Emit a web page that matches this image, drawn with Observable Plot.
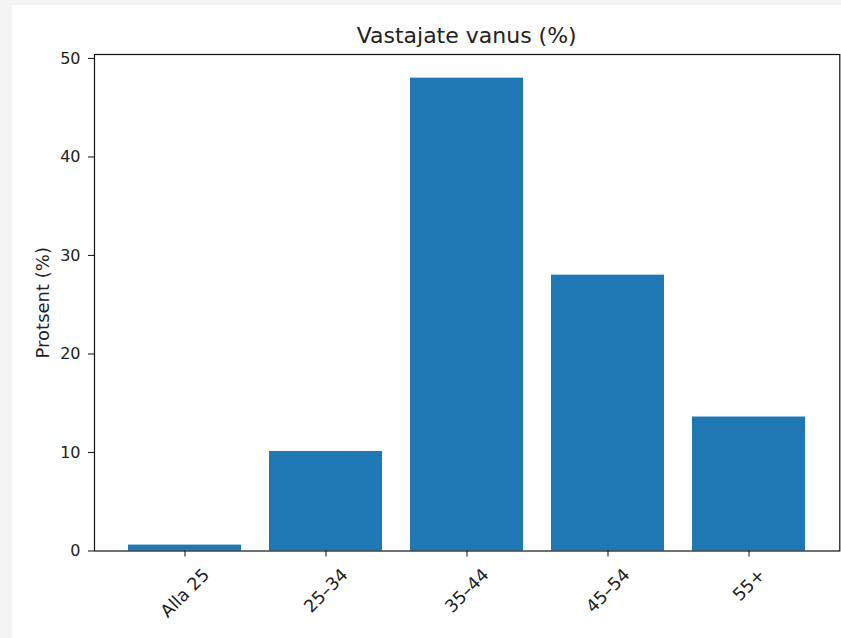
<!DOCTYPE html>
<html>
<head>
<meta charset="utf-8">
<script src="https://cdn.jsdelivr.net/npm/d3@7"></script>
<script src="https://cdn.jsdelivr.net/npm/@observablehq/plot@0.6"></script>
<style>
  html, body { margin: 0; padding: 0; background: #f4f4f4; }
  #wrap { position: absolute; left: 12px; top: 5px; width: 829px; height: 633px; background: #ffffff; overflow: hidden; }
  #title { box-sizing: border-box; height: 44px; padding: 19.7px 1.7px 0 82px; text-align: center;
           font-family: "DejaVu Sans", sans-serif; font-size: 22px; line-height: 22px; color: #222; white-space: nowrap; }
  #chart svg { display: block; }
</style>
</head>
<body>
<div id="wrap">
  <div id="title">Vastajate vanus (%)</div>
  <div id="chart"></div>
</div>
<script>
const categories = ["Alla 25", "25–34", "35–44", "45–54", "55+"];
const values = [0.6, 10.1, 48.0, 28.0, 13.6];
const yTicks = [0, 10, 20, 30, 40, 50];
const yLabel = "Protsent (%)";

const fontFamily = "DejaVu Sans";
const yTickFont = 16;
const xTickFont = 17.5;
const yLabelFont = 18;
const ctx = document.createElement("canvas").getContext("2d");
ctx.font = `${xTickFont}px "${fontFamily}"`;
const measure = (s) => ctx.measureText(s).width;

const labelMarks = categories.map((c) =>
  Plot.text([c], {
    x: (d) => d,
    frameAnchor: "bottom",
    rotate: -45,
    textAnchor: "middle",
    lineAnchor: "middle",
    fontSize: xTickFont,
    fill: "#222",
    dy: 16.5 + 0.3535 * (measure(c) + 0.73 * xTickFont)
  })
);

const chart = Plot.plot({
  width: 829,
  height: 589,
  marginLeft: 82,
  marginRight: 1.7,
  marginTop: 5,
  marginBottom: 87.5,
  style: { fontFamily: `"${fontFamily}", sans-serif`, fontSize: `${yTickFont}px`, color: "#222", background: "white" },
  x: { type: "band", domain: categories, paddingInner: 0.2, paddingOuter: 0.24, align: 0.5 },
  y: { domain: [0, 50.4] },
  marks: [
    Plot.barY(categories, { x: (d) => d, y: (d, i) => values[i], fill: "#1f77b4" }),
    Plot.axisY({ ticks: yTicks, tickSize: 6, tickPadding: 8, fontSize: yTickFont, label: null, stroke: "#222", strokeWidth: 1.1 }),
    Plot.axisX({ tickSize: 6, tickFormat: () => "", label: null, stroke: "#222", strokeWidth: 1.1 }),
    ...labelMarks,
    Plot.text([yLabel], { frameAnchor: "left", dx: -51, rotate: -90, textAnchor: "middle", lineAnchor: "middle", fontSize: yLabelFont, fill: "#222" }),
    Plot.frame({ stroke: "#111", strokeWidth: 1.2 })
  ]
});
document.getElementById("chart").appendChild(chart);
</script>
</body>
</html>
